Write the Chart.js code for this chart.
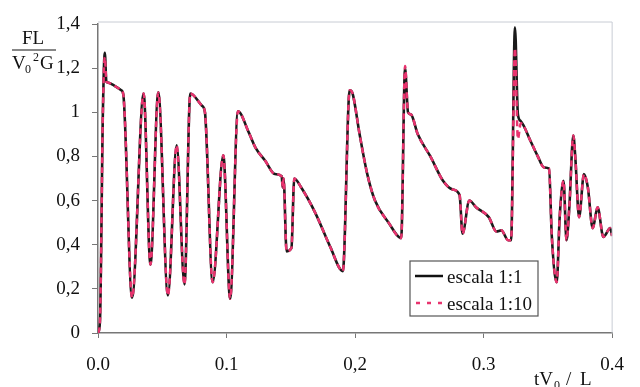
<!DOCTYPE html>
<html>
<head>
<meta charset="utf-8">
<script src="https://cdn.jsdelivr.net/npm/chart.js@4.4.1/dist/chart.umd.min.js"></script>
<style>
    body { margin: 0; background: #fff; }
    #caixa { width: 640px; height: 387px; }
</style>
</head>
<body>
<div id="caixa"><canvas id="graficoEscalas"></canvas></div>
<script>
// tV0/L
const tempo = [0, 0.0015, 0.0038, 0.0053, 0.0065, 0.0076, 0.0129, 0.0181, 0.0197, 0.0265,
    0.0355, 0.0408, 0.0469, 0.0544, 0.0612, 0.0673, 0.0718, 0.0809, 0.0832, 0.0892,
    0.0975, 0.1028, 0.1089, 0.1172, 0.1225, 0.1301, 0.1376, 0.1429, 0.1437, 0.1444,
    0.1467, 0.1505, 0.1527, 0.158, 0.1694, 0.1807, 0.1905, 0.1958, 0.1981, 0.2034,
    0.2095, 0.2155, 0.2261, 0.2359, 0.2389, 0.2412, 0.2435, 0.2488, 0.2586, 0.2684,
    0.276, 0.2813, 0.2836, 0.2889, 0.2941, 0.304, 0.31, 0.3138, 0.3191, 0.3214,
    0.3244, 0.3267, 0.3289, 0.3365, 0.3418, 0.3471, 0.3509, 0.3531, 0.3569, 0.3592,
    0.3622, 0.3645, 0.3667, 0.3698, 0.3713, 0.3743, 0.3781, 0.3811, 0.3849, 0.3887,
    0.3932, 0.3985, 0.4];

// FL / (V0^2 G)
const escala1 = [0, 0.05, 1.0, 1.27, 1.14, 1.135, 1.12, 1.10, 1.08, 0.16,
    1.085, 0.31, 1.09, 0.17, 0.85, 0.22, 1.085, 1.03, 1.0, 0.23,
    0.805, 0.155, 1.005, 0.91, 0.84, 0.78, 0.72, 0.71, 0.66, 0.70,
    0.37, 0.385, 0.70, 0.66, 0.54, 0.39, 0.28, 1.10, 1.085, 0.905,
    0.72, 0.60, 0.50, 0.43, 1.20, 1.00, 0.99, 0.90, 0.80, 0.69,
    0.65, 0.625, 0.45, 0.60, 0.57, 0.525, 0.46, 0.465, 0.42, 0.42,
    1.385, 0.99, 0.96, 0.87, 0.805, 0.75, 0.745, 0.435, 0.23, 0.525,
    0.69, 0.42, 0.57, 0.895, 0.80, 0.525, 0.72, 0.66, 0.475, 0.57,
    0.435, 0.475, 0.44];

const escala10 = [0, 0.05, 1.0, 1.25, 1.14, 1.135, 1.12, 1.10, 1.08, 0.16,
    1.085, 0.31, 1.09, 0.17, 0.85, 0.22, 1.085, 1.03, 1.0, 0.23,
    0.805, 0.155, 1.005, 0.91, 0.84, 0.78, 0.72, 0.71, 0.66, 0.70,
    0.37, 0.385, 0.70, 0.66, 0.54, 0.39, 0.28, 1.10, 1.085, 0.905,
    0.72, 0.60, 0.50, 0.43, 1.21, 1.00, 0.99, 0.90, 0.80, 0.69,
    0.65, 0.625, 0.45, 0.60, 0.57, 0.525, 0.46, 0.465, 0.42, 0.42,
    1.29, 0.88, 0.95, 0.87, 0.805, 0.75, 0.745, 0.435, 0.23, 0.525,
    0.69, 0.42, 0.57, 0.895, 0.80, 0.525, 0.72, 0.66, 0.475, 0.57,
    0.435, 0.475, 0.44];

const rotulosX = ["0.0", "0.1", "0,2", "0.3", "0.4"];
const rotulosY = ["0", "0,2", "0,4", "0,6", "0,8", "1", "1,2", "1,4"];
const legendas = ["escala 1:1", "escala 1:10"];

const fonteSerif = "'Liberation Serif', 'DejaVu Serif', serif";
const corRosa = "#e8336e";

function pontos(valores) {
    return tempo.map((t, i) => ({x: t, y: valores[i]}));
}

// moldura clara, titulos dos eixos e legenda
const extras = {
    id: "extras",
    afterDraw(chart) {
        let ctx = chart.ctx;
        let area = chart.chartArea;
        ctx.save();

        ctx.strokeStyle = "#c8ccd4";
        ctx.lineWidth = 1;
        ctx.beginPath();
        ctx.moveTo(area.left, area.top - 2);
        ctx.lineTo(area.right, area.top - 2);
        ctx.lineTo(area.right, area.bottom);
        ctx.stroke();

        ctx.fillStyle = "#111";
        ctx.textBaseline = "alphabetic";

        // FL / V0^2 G
        ctx.font = "19px " + fonteSerif;
        ctx.textAlign = "center";
        ctx.fillText("FL", 33, 44);
        ctx.strokeStyle = "#111";
        ctx.lineWidth = 1.2;
        ctx.beginPath();
        ctx.moveTo(12, 50);
        ctx.lineTo(56, 50);
        ctx.stroke();
        ctx.textAlign = "left";
        ctx.fillText("V", 12, 69);
        ctx.font = "12px " + fonteSerif;
        ctx.fillText("0", 25, 73);
        ctx.fillText("2", 33, 61);
        ctx.font = "19px " + fonteSerif;
        ctx.fillText("G", 40, 69);

        // tV0 / L
        ctx.fillText("tV", 534, 385);
        ctx.font = "12px " + fonteSerif;
        ctx.fillText("0", 554, 389);
        ctx.font = "19px " + fonteSerif;
        ctx.fillText("/", 566, 385);
        ctx.fillText("L", 580, 385);

        // legenda
        ctx.fillStyle = "#fff";
        ctx.fillRect(410, 261, 128, 55);
        ctx.strokeStyle = "#555";
        ctx.lineWidth = 1.2;
        ctx.strokeRect(410, 261, 128, 55);

        ctx.lineWidth = 2.5;
        ctx.strokeStyle = "#111";
        ctx.beginPath();
        ctx.moveTo(415, 276);
        ctx.lineTo(443, 276);
        ctx.stroke();

        ctx.strokeStyle = corRosa;
        ctx.setLineDash([4, 7]);
        ctx.beginPath();
        ctx.moveTo(416, 303);
        ctx.lineTo(443, 303);
        ctx.stroke();
        ctx.setLineDash([]);

        ctx.fillStyle = "#111";
        ctx.font = "19px " + fonteSerif;
        ctx.fillText(legendas[0], 447, 283);
        ctx.fillText(legendas[1], 447, 310);

        ctx.restore();
    }
};

function inicializar() {
    let ctx = document.getElementById("graficoEscalas");

    new Chart(ctx, {
        type: "line",
        data: {
            datasets: [
                {
                    label: legendas[0],
                    data: pontos(escala1),
                    borderColor: "#1a1a1a",
                    borderWidth: 2.6,
                    pointRadius: 0,
                    cubicInterpolationMode: "monotone",
                    order: 1
                },
                {
                    label: legendas[1],
                    data: pontos(escala10),
                    borderColor: corRosa,
                    borderWidth: 2.5,
                    borderDash: [6, 4],
                    pointRadius: 0,
                    cubicInterpolationMode: "monotone",
                    order: 0
                }
            ]
        },
        options: {
            responsive: true,
            maintainAspectRatio: false,
            animation: false,
            layout: {padding: {top: 24, right: 13, left: 0, bottom: 0}},
            plugins: {
                legend: {display: false},
                tooltip: {enabled: false}
            },
            scales: {
                x: {
                    type: "linear",
                    min: 0,
                    max: 0.4,
                    afterFit: (scale) => { scale.height = 54; },
                    border: {color: "#777", width: 1.5},
                    grid: {drawOnChartArea: false, tickLength: 5, color: "#777"},
                    ticks: {
                        stepSize: 0.1,
                        padding: 16,
                        color: "#111",
                        font: {family: fonteSerif, size: 19},
                        callback: (valor, i) => rotulosX[i]
                    }
                },
                y: {
                    min: 0,
                    max: 1.4,
                    afterFit: (scale) => { scale.width = 98; },
                    border: {color: "#777", width: 1.5},
                    grid: {drawOnChartArea: false, tickLength: 6, color: "#777"},
                    ticks: {
                        stepSize: 0.2,
                        padding: 12,
                        color: "#111",
                        font: {family: fonteSerif, size: 19},
                        callback: (valor, i) => rotulosY[i]
                    }
                }
            }
        },
        plugins: [extras]
    });
}

inicializar();
</script>
</body>
</html>
